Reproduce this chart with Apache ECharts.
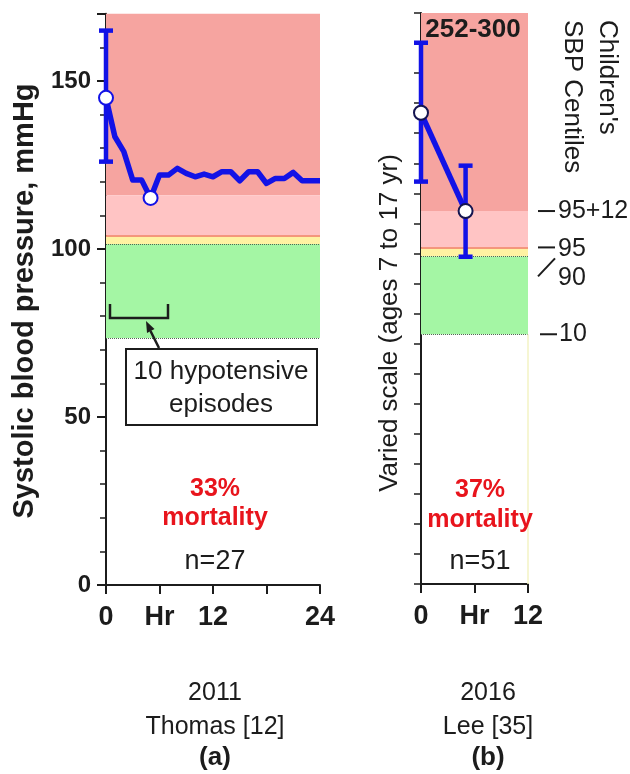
<!DOCTYPE html>
<html><head><meta charset="utf-8">
<script src="https://cdn.jsdelivr.net/npm/echarts@6/dist/echarts.min.js"></script>
<style>html,body{margin:0;padding:0;background:#fff}#c{width:630px;height:774px}</style>
</head><body><div id="c"></div>
<script>
// ---- Panel (a): Thomas 2011 ----
const hoursA = [0,1,2,3,4,5,6,7,8,9,10,11,12,13,14,15,16,17,18,19,20,21,22,23,24];
const sbpA   = [145,133.4,129,120.5,120.5,115.2,122,122,124,122.5,121.5,122.3,121.5,123,123,120.3,123,123,119.5,121,121,122.8,120.3,120.3,120.3];
const markerIdxA = [0,5];
const errHourA = [0];
const errLowA  = [126];
const errHighA = [165];
const xTickLabelsA = ['0','Hr','12','','24'];
const yTickLabelsA = [0,50,100,150];
const bandEdgesA = [170,116,104,101.5,73.5];

// ---- Panel (b): Lee 2016 (varied scale) ----
const hoursB = [0,5];
const valB   = [15.68,12.41];
const errLowB  = [13.39,10.89];
const errHighB = [18.01,13.92];
const xTickLabelsB = ['0','Hr','12'];
const bandEdgesB = [19,12.41,11.2,10.9,8.31];
const centileLabels = ['95+12','95','90','10'];

const bandColors = ['#F6A4A0','#FFC4C4','#FFF2A2','#A4F6A4'];
const BLUE = '#1212E6';
const INK = '#1c1c1c';
const RED = '#E8141C';
const FONT = '"Liberation Sans", Arial, sans-serif';

function bandAreas(edges){
  const out = [];
  for (let i=0;i<4;i++){
    out.push([{yAxis: edges[i], itemStyle:{color: bandColors[i]}}, {yAxis: edges[i+1]}]);
  }
  return out;
}
function bandLines(edges){
  return [
    {yAxis: edges[2], lineStyle:{color:'#F07A6A', type:'solid', width:1.5}},
    {yAxis: edges[3], lineStyle:{color:'#556655', type:'dotted', width:1}},
    {yAxis: edges[4], lineStyle:{color:'#556655', type:'dotted', width:1}}
  ];
}
function errorRender(params, api){
  const x = api.value(0), lo = api.value(1), hi = api.value(2);
  const a = api.coord([x, lo]), b = api.coord([x, hi]);
  const w = 7, st = {stroke: BLUE, lineWidth: 4.5};
  return {type:'group', children:[
    {type:'line', shape:{x1:a[0],y1:a[1],x2:b[0],y2:b[1]}, style:st},
    {type:'line', shape:{x1:b[0]-w,y1:b[1],x2:b[0]+w,y2:b[1]}, style:st},
    {type:'line', shape:{x1:a[0]-w,y1:a[1],x2:a[0]+w,y2:a[1]}, style:st}
  ]};
}
const axisLine = {show:true, onZero:false, lineStyle:{color:INK, width:2}};
const tickStyle = {color:INK, width:2};

const chart = echarts.init(document.getElementById('c'), null, {renderer:'canvas'});
const option = {
  animation: false,
  backgroundColor: '#fff',
  grid: [
    {left:106, top:13.8, width:214, height:571.2, outerBoundsMode:'none', containLabel:false},
    {left:421, top:13, width:107, height:571, outerBoundsMode:'none', containLabel:false}
  ],
  xAxis: [
    {type:'value', gridIndex:0, min:0, max:24, interval:6, axisLine,
     axisTick:{show:true, length:9, inside:false, lineStyle:tickStyle},
     splitLine:{show:false},
     axisLabel:{margin:19, fontFamily:FONT, fontWeight:'bold', fontSize:27, color:INK,
       formatter: v => xTickLabelsA[Math.round(v/6)] ?? ''}},
    {type:'value', gridIndex:1, min:0, max:12, interval:6, axisLine,
     axisTick:{show:true, length:9, lineStyle:tickStyle},
     splitLine:{show:false},
     axisLabel:{margin:19, fontFamily:FONT, fontWeight:'bold', fontSize:27, color:INK,
       formatter: v => xTickLabelsB[Math.round(v/6)] ?? ''}}
  ],
  yAxis: [
    {type:'value', gridIndex:0, min:0, max:170, interval:50, axisLine,
     axisTick:{show:true, length:9, lineStyle:tickStyle},
     minorTick:{show:true, splitNumber:5, length:6, lineStyle:{color:INK, width:1.5}},
     splitLine:{show:false}, minorSplitLine:{show:false},
     axisLabel:{margin:15, fontFamily:FONT, fontWeight:'bold', fontSize:24, color:INK,
       formatter: v => yTickLabelsA.includes(v) ? String(v) : ''}},
    {type:'value', gridIndex:1, min:0, max:19, interval:1, axisLine,
     axisTick:{show:true, length:7, lineStyle:{color:INK, width:1.5}},
     splitLine:{show:false},
     axisLabel:{show:false}}
  ],
  series: [
    {type:'custom', xAxisIndex:0, yAxisIndex:0, renderItem: errorRender, z:3,
     encode:{x:0, y:[1,2]},
     data: errHourA.map((h,i)=>[h, errLowA[i], errHighA[i]])},
    {type:'line', xAxisIndex:0, yAxisIndex:0, z:4, clip:false,
     symbol:'circle', symbolSize:14, showAllSymbol:true,
     lineStyle:{color:BLUE, width:5.5, join:'round'},
     itemStyle:{color:'#fff', borderColor:BLUE, borderWidth:2},
     data: hoursA.map((h,i)=>({value:[h, sbpA[i]], symbol: markerIdxA.includes(i) ? 'circle' : 'none'})),
     markArea:{silent:true, z:1, data: bandAreas(bandEdgesA)},
     markLine:{silent:true, z:1, symbol:['none','none'], label:{show:false}, data: bandLines(bandEdgesA)}},
    {type:'custom', xAxisIndex:1, yAxisIndex:1, renderItem: errorRender, z:3,
     encode:{x:0, y:[1,2]},
     data: hoursB.map((h,i)=>[h, errLowB[i], errHighB[i]])},
    {type:'line', xAxisIndex:1, yAxisIndex:1, z:4, clip:false,
     symbol:'circle', symbolSize:14,
     lineStyle:{color:BLUE, width:5.5},
     itemStyle:{color:'#fff', borderColor:'#141450', borderWidth:2},
     data: hoursB.map((h,i)=>[h, valB[i]]),
     markArea:{silent:true, z:1, data: bandAreas(bandEdgesB)},
     markLine:{silent:true, z:1, symbol:['none','none'], label:{show:false},
       data: bandLines(bandEdgesB).concat([[
         {coord:[12, 0], lineStyle:{color:'#F3F3C4', type:'solid', width:1.5}},
         {coord:[12, bandEdgesB[4]]}]])}}
  ]
};
chart.setOption(option);

function txt(x, y, text, size, opts){
  opts = opts || {};
  return {type:'text', x, y, rotation: opts.rot || 0, z: 10,
    style:{text, fill: opts.color || INK,
      font: (opts.bold ? 'bold ' : '') + size + 'px ' + FONT,
      align: opts.align || 'center', verticalAlign: 'middle',
      lineHeight: opts.lh || size}};
}
function seg(x1,y1,x2,y2,w){
  return {type:'line', z:10, shape:{x1,y1,x2,y2}, style:{stroke:INK, lineWidth:w||2}};
}
const py = v => chart.convertToPixel({xAxisIndex:1, yAxisIndex:1}, [0, v])[1];
const yR = py(bandEdgesB[1]), y95 = py(bandEdgesB[2]), y90 = py(bandEdgesB[3]), y10 = py(bandEdgesB[4]);

const elements = [
  // axis titles
  txt(25, 301, 'Systolic blood pressure, mmHg', 29, {bold:true, rot:Math.PI/2}),
  txt(390, 323, 'Varied scale (ages 7 to 17 yr)', 26, {rot:Math.PI/2}),
  txt(590, 20, "Children's\nSBP Centiles", 26, {rot:-Math.PI/2, align:'left', lh:35}),
  // hypotensive annotation
  {type:'polyline', z:10, shape:{points:[[110,304],[110,318],[168,318],[168,304]]}, style:{stroke:INK, lineWidth:2.5, fill:null}},
  seg(159,348,150.5,331,2.5),
  {type:'polygon', z:10, shape:{points:[[146,321],[154.5,329],[147,333]]}, style:{fill:INK}},
  {type:'rect', z:10, shape:{x:126, y:349, width:191, height:76}, style:{fill:'#fff', stroke:INK, lineWidth:2}},
  txt(221, 388, '10 hypotensive\nepisodes', 26, {lh:33}),
  // mortality texts
  txt(215, 489, '33%', 25, {bold:true, color:RED}),
  txt(215, 518, 'mortality', 25, {bold:true, color:RED}),
  txt(215, 562, 'n=27', 27),
  txt(480, 490, '37%', 25, {bold:true, color:RED}),
  txt(480, 520, 'mortality', 25, {bold:true, color:RED}),
  txt(480, 562, 'n=51', 27),
  txt(473, 30, '252-300', 26, {bold:true}),
  // centile labels
  seg(538, yR, 555, yR), txt(558, yR, centileLabels[0], 25, {align:'left'}),
  seg(538, y95, 555, y95), txt(558, y95 + 2, centileLabels[1], 25, {align:'left'}),
  seg(538, y90 + 20, 555, y90 + 2), txt(558, y90 + 22, centileLabels[2], 25, {align:'left'}),
  seg(540, y10, 557, y10), txt(559, y10, centileLabels[3], 25, {align:'left'}),
  // panel captions
  txt(215, 693, '2011', 25), txt(215, 727, 'Thomas [12]', 25), txt(215, 758, '(a)', 26, {bold:true}),
  txt(488, 693, '2016', 25), txt(488, 727, 'Lee [35]', 25), txt(488, 758, '(b)', 26, {bold:true})
];
chart.setOption({graphic:{elements}});
</script>
</body></html>
